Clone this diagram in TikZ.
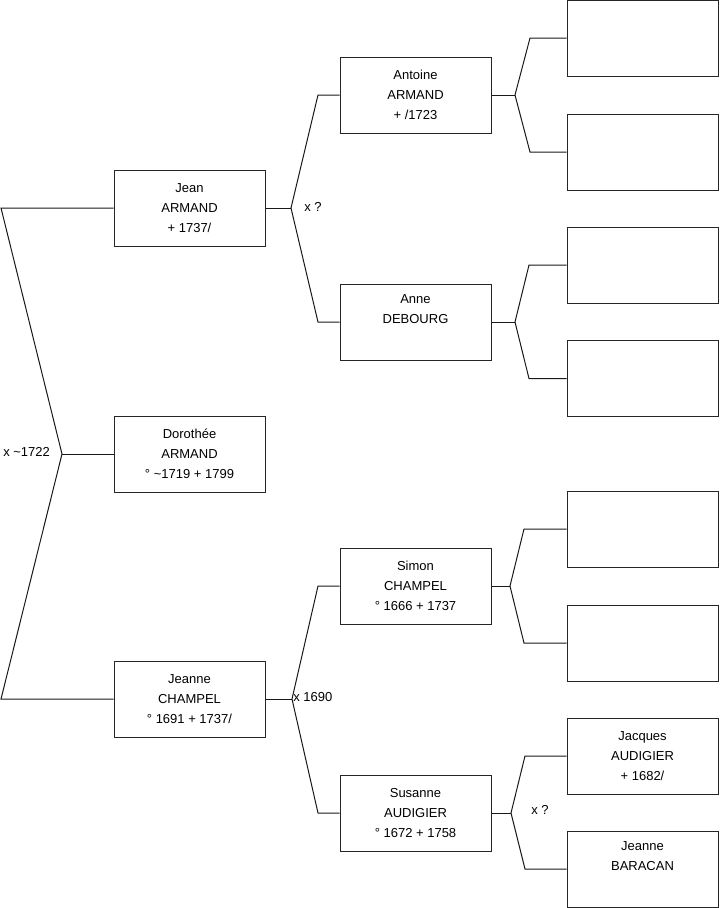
\documentclass[tikz,border=0pt]{standalone}
\usepackage{fontspec}
\setmainfont{Liberation Sans}
\begin{document}
\begin{tikzpicture}[x=0.75pt,y=-0.75pt,
  person/.style={draw=black!85, line width=0.75pt, fill=white, minimum width=113.25pt, minimum height=57pt, inner sep=0pt, align=center, font=\fontsize{9.75pt}{15pt}\selectfont},
  link/.style={draw=black!90, line width=0.75pt},
  union/.style={anchor=west, inner sep=0pt, font=\fontsize{9.75pt}{12pt}\selectfont}]
\useasboundingbox (0,0) rectangle (719,908);
% generation 1
\node[person] (jean) at (189.5,208) {Jean\\ARMAND\\+ 1737/};
\node[person] (doro) at (189.5,454) {Dorothée\\ARMAND\\° \textasciitilde1719 + 1799};
\node[person] (jeanne) at (189.5,699) {Jeanne\\CHAMPEL\\° 1691 + 1737/};
% generation 2
\node[person] (antoine) at (415.5,95) {Antoine\\ARMAND\\+ /1723};
\node[person] (anne) at (415.5,322) {Anne\\DEBOURG\\\strut};
\node[person] (simon) at (415.5,586) {Simon\\CHAMPEL\\° 1666 + 1737};
\node[person] (susanne) at (415.5,813) {Susanne\\AUDIGIER\\° 1672 + 1758};
% generation 3
\node[person] (g1) at (642.5,38) {};
\node[person] (g2) at (642.5,152) {};
\node[person] (g3) at (642.5,265) {};
\node[person] (g4) at (642.5,378.5) {};
\node[person] (g5) at (642.5,529) {};
\node[person] (g6) at (642.5,643) {};
\node[person] (jacques) at (642.5,756) {Jacques\\AUDIGIER\\+ 1682/};
\node[person] (baracan) at (642.5,869) {Jeanne\\BARACAN\\\strut};
% fork points
\coordinate (r) at (62,454);
\coordinate (rt) at (1,208);
\coordinate (rb) at (1,699);
\coordinate (fa) at (291,208);
\coordinate (fat) at (318,95);
\coordinate (fab) at (318,322);
\coordinate (fb) at (292,699);
\coordinate (fbt) at (318,586);
\coordinate (fbb) at (318,813);
\coordinate (fc) at (515,95);
\coordinate (fct) at (530,38);
\coordinate (fcb) at (530,152);
\coordinate (fd) at (515,322);
\coordinate (fdt) at (529,265);
\coordinate (fdb) at (529,378.5);
\coordinate (fe) at (510,586);
\coordinate (fet) at (524,529);
\coordinate (feb) at (524,643);
\coordinate (ff) at (511,813);
\coordinate (fft) at (525,756);
\coordinate (ffb) at (525,869);
% connectors
\draw[link] (jean.west) -- (rt) -- (r) -- (rb) -- (jeanne.west);
\draw[link] (r) -- (doro.west);
\draw[link] (jean.east) -- (fa);
\draw[link] (antoine.west) -- (fat) -- (fa) -- (fab) -- (anne.west);
\draw[link] (jeanne.east) -- (fb);
\draw[link] (simon.west) -- (fbt) -- (fb) -- (fbb) -- (susanne.west);
\draw[link] (antoine.east) -- (fc);
\draw[link] (g1.west) -- (fct) -- (fc) -- (fcb) -- (g2.west);
\draw[link] (anne.east) -- (fd);
\draw[link] (g3.west) -- (fdt) -- (fd) -- (fdb) -- (g4.west);
\draw[link] (simon.east) -- (fe);
\draw[link] (g5.west) -- (fet) -- (fe) -- (feb) -- (g6.west);
\draw[link] (susanne.east) -- (ff);
\draw[link] (jacques.west) -- (fft) -- (ff) -- (ffb) -- (baracan.west);
% union labels
\node[union] (u1) at (3,452) {x \textasciitilde1722};
\node[union] (u2) at (304,207) {x ?};
\node[union] (u3) at (293,697) {x 1690};
\node[union] (u4) at (531,810) {x ?};
\end{tikzpicture}
\end{document}
